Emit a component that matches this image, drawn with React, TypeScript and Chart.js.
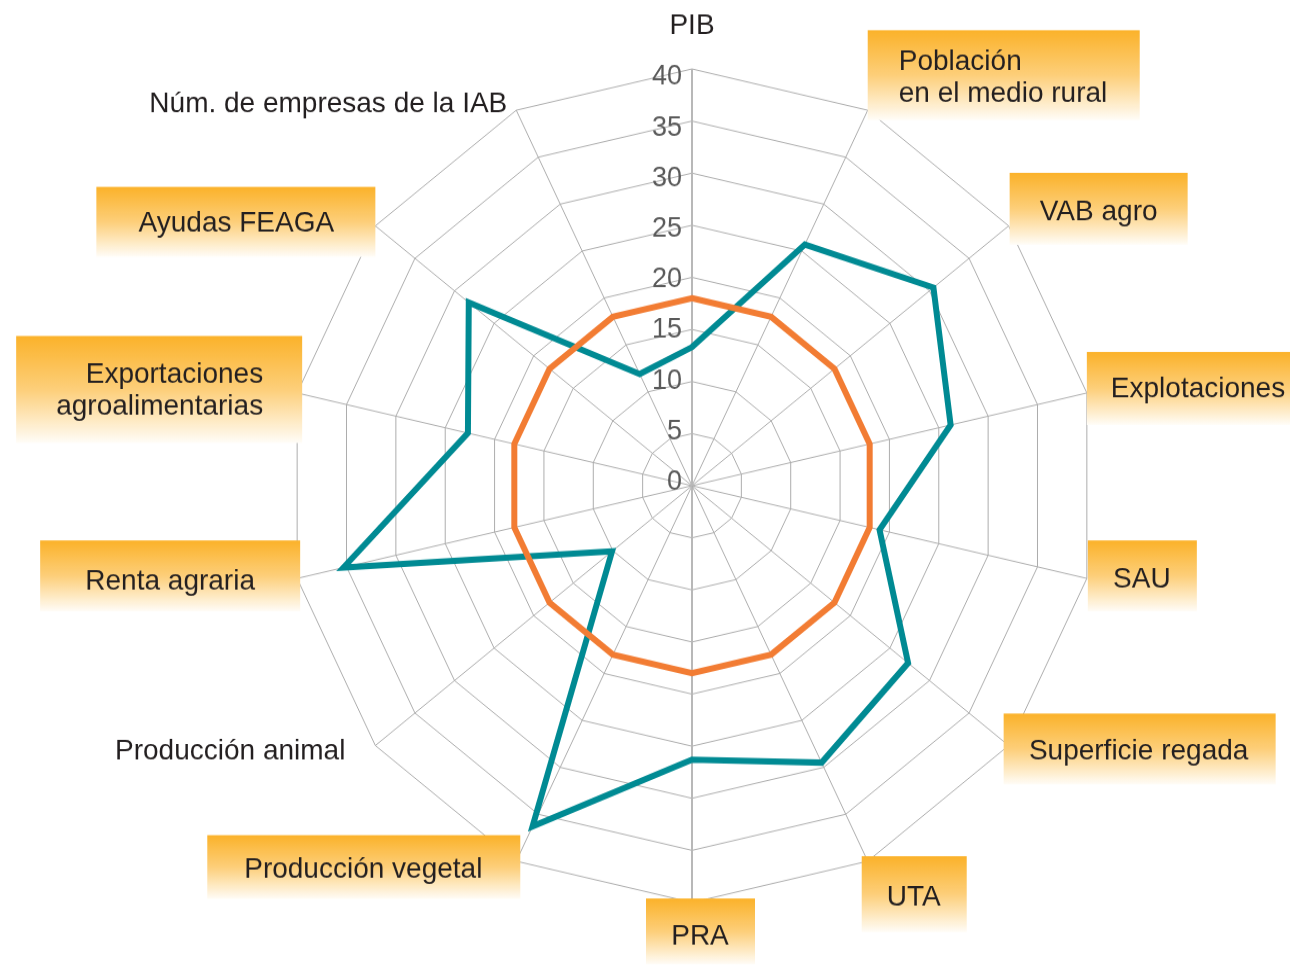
import React, { useEffect, useRef } from "react";
import { Chart, registerables } from "chart.js";

Chart.register(...registerables);

// ---- data ----
const categories: string[][] = [
  ["PIB"],
  ["Población", "en el medio rural"],
  ["VAB agro"],
  ["Explotaciones"],
  ["SAU"],
  ["Superficie regada"],
  ["UTA"],
  ["PRA"],
  ["Producción vegetal"],
  ["Producción animal"],
  ["Renta agraria"],
  ["Exportaciones", "agroalimentarias"],
  ["Ayudas FEAGA"],
  ["Núm. de empresas de la IAB"],
];
const highlighted = [false, true, true, true, true, true, true, true, true, false, true, true, true, false];
const regionValues = [13.3, 25.7, 30.5, 26.2, 19.0, 27.3, 29.5, 26.3, 36.3, 10.1, 35.3, 22.7, 28.2, 11.9];
const referenceValues = [18, 18, 18, 18, 18, 18, 18, 18, 18, 18, 18, 18, 18, 18];
const scaleMin = 0;
const scaleMax = 40;
const scaleStep = 5;

// ---- styles / layout (screen px, relative to each axis end point) ----
const SY = 1.029; // vertical stretch of the picture
const CANVAS_W = 1290;
const CANVAS_H = 938;
const ORANGE = "#F27C33";
const TEAL = "#008A93";

type LabelLayout = { box: number[] | null; align: CanvasTextAlign; tx: number; ty: number[] };
const labelLayout: LabelLayout[] = [
  { box: null, align: "center", tx: 0, ty: [-35] },
  { box: [0, -80, 272, 90], align: "left", tx: 31, ty: [-40, -8] },
  { box: [1, -53, 178, 72], align: "center", tx: 90, ty: [-6] },
  { box: [0, -41, 205, 73], align: "left", tx: 24, ty: [4] },
  { box: [1, -38, 109, 71], align: "center", tx: 55, ty: [9] },
  { box: [-5, -32, 272, 71], align: "center", tx: 130, ty: [14] },
  { box: [-6, -5, 105, 76], align: "center", tx: 46, ty: [44] },
  { box: [-46, -4, 109, 66], align: "center", tx: 8, ty: [42] },
  { box: [-309, -26, 313, 64], align: "center", tx: -153, ty: [17] },
  { box: null, align: "right", tx: -30, ty: [14] },
  { box: [-257, -38, 260, 71], align: "center", tx: -127, ty: [11] },
  { box: [-281, -57, 286, 107], align: "right", tx: -34, ty: [-10, 22] },
  { box: [-279, -39, 279, 70], align: "center", tx: -139, ty: [6] },
  { box: null, align: "right", tx: -9, ty: [2] },
];

const FONT = '"Liberation Sans", Arial, Helvetica, sans-serif';

const decorPlugin = {
  id: "decor",
  beforeDatasetsDraw(chart: any) {
    const scale = chart.scales.r;
    const ctx = chart.ctx as CanvasRenderingContext2D;
    ctx.save();
    ctx.font = `27px ${FONT}`;
    ctx.fillStyle = "#5a5a5a";
    ctx.textAlign = "right";
    ctx.textBaseline = "middle";
    scale.ticks.forEach((t: any) => {
      const d = scale.getDistanceFromCenterForValue(t.value);
      ctx.fillText(String(t.value), scale.xCenter - 10, scale.yCenter - 3.5 - d * 0.9716);
    });
    ctx.restore();
  },
  afterDraw(chart: any) {
    const scale = chart.scales.r;
    const ctx = chart.ctx as CanvasRenderingContext2D;
    ctx.save();
    categories.forEach((lines, i) => {
      const lay = labelLayout[i];
      const p = scale.getPointPosition(i, scale.drawingArea);
      if (highlighted[i] && lay.box) {
        const [bx, by, bw, bh] = lay.box;
        const x = p.x + bx;
        const y = p.y + by / SY;
        const h = bh / SY;
        const g = ctx.createLinearGradient(0, y, 0, y + h);
        g.addColorStop(0, "#FBB22A");
        g.addColorStop(0.5, "#FDCF7A");
        g.addColorStop(1, "#FFFDF8");
        ctx.fillStyle = g;
        ctx.fillRect(x, y, bw, h);
      }
      ctx.font = `28px ${FONT}`;
      ctx.fillStyle = "#231F20";
      ctx.textAlign = lay.align;
      ctx.textBaseline = "alphabetic";
      lines.forEach((line, k) => {
        ctx.fillText(line, p.x + lay.tx, p.y + lay.ty[k] / SY);
      });
    });
    ctx.restore();
  },
};

export default function App() {
  const ref = useRef<HTMLCanvasElement | null>(null);
  useEffect(() => {
    if (!ref.current) return;
    const chart = new Chart(ref.current, {
      type: "radar",
      data: {
        labels: categories as any,
        datasets: [
          {
            label: "Referencia",
            data: referenceValues,
            borderColor: ORANGE,
            borderWidth: 6,
            backgroundColor: "transparent",
            fill: false,
            pointRadius: 0,
            tension: 0,
          },
          {
            label: "Región",
            data: regionValues,
            borderColor: TEAL,
            borderWidth: 6,
            backgroundColor: "transparent",
            fill: false,
            pointRadius: 0,
            tension: 0,
          },
        ],
      },
      options: {
        responsive: false,
        devicePixelRatio: 1,
        animation: false,
        layout: { padding: { left: 94, right: 0, top: 67, bottom: 61 } },
        plugins: { legend: { display: false }, tooltip: { enabled: false } },
        elements: { line: { borderJoinStyle: "miter" } },
        scales: {
          r: {
            min: scaleMin,
            max: scaleMax,
            beginAtZero: true,
            ticks: { display: false, stepSize: scaleStep },
            grid: { color: "#ADADAD", lineWidth: 1, circular: false },
            angleLines: {
              color: (c: any) => (c.index === 0 || c.index === 7 ? "#B8B8B8" : "#ADADAD"),
              lineWidth: (c: any) => (c.index === 0 || c.index === 7 ? 2 : 1),
            },
            pointLabels: { display: false },
          },
        },
      },
      plugins: [decorPlugin],
    });
    return () => chart.destroy();
  }, []);

  return (
    <div
      style={{
        position: "fixed",
        left: 0,
        top: 0,
        width: 1290,
        height: 965,
        background: "#ffffff",
        overflow: "hidden",
      }}
    >
      <canvas
        ref={ref}
        width={CANVAS_W}
        height={CANVAS_H}
        style={{
          display: "block",
          width: CANVAS_W,
          height: CANVAS_H,
          transformOrigin: "0 0",
          transform: `scaleY(${SY})`,
        }}
      />
    </div>
  );
}
